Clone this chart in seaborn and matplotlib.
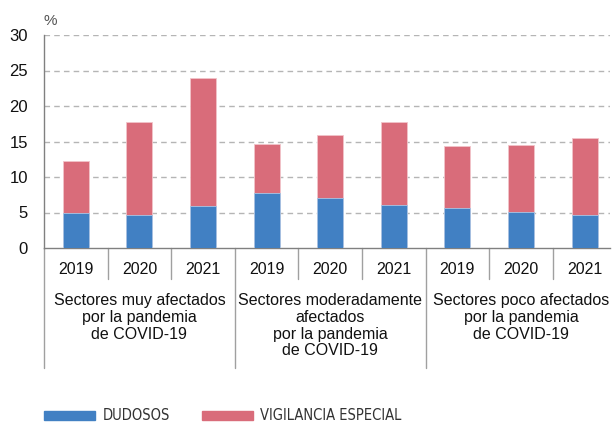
import pandas as pd
import matplotlib.pyplot as plt
import seaborn as sns
from matplotlib.patches import Patch
from matplotlib import font_manager

# data
groups = [
    "Sectores muy afectados\npor la pandemia\nde COVID-19",
    "Sectores moderadamente\nafectados\npor la pandemia\nde COVID-19",
    "Sectores poco afectados\npor la pandemia\nde COVID-19",
]
years = ["2019", "2020", "2021"]
dudosos = [4.9, 4.6, 5.9, 7.8, 7.1, 6.0, 5.7, 5.1, 4.6]
vigilancia = [7.4, 13.1, 18.0, 6.8, 8.8, 11.7, 8.7, 9.4, 10.9]
legend_labels = ["DUDOSOS", "VIGILANCIA ESPECIAL"]

rows = []
for i, (d, v) in enumerate(zip(dudosos, vigilancia)):
    rows.append({"key": f"{i // 3}-{years[i % 3]}", "dudosos": d, "total": d + v})
df = pd.DataFrame(rows)

blue = "#4180c3"
pink = "#d96c7a"

sns.set_style("white")
plt.rcParams["font.family"] = ["Liberation Sans", "DejaVu Sans"]

fig = plt.figure(figsize=(6.12, 4.24), dpi=100)
W, H = 612, 424
ax = fig.add_axes([44 / W, 1 - 248 / H, (610 - 44) / W, (248 - 35) / H])

sns.barplot(data=df, x="key", y="total", color=pink, width=0.41, ax=ax,
            edgecolor="#f2c4ca", linewidth=0.6, saturation=1, zorder=3)
sns.barplot(data=df, x="key", y="dudosos", color=blue, width=0.41, ax=ax,
            edgecolor="#a9c6e6", linewidth=0.6, saturation=1, zorder=4)

ax.set_ylim(0, 30)
ax.set_xlim(-0.5, 8.4)
ax.set_yticks(range(0, 31, 5))
ax.tick_params(axis="y", labelsize=12, length=0, pad=11.5, labelcolor="#111111")
ax.set_xticks([])
ax.set_xlabel("")
ax.set_ylabel("")
for y in range(5, 31, 5):
    ax.axhline(y, color="#b5b5b5", linestyle=(0, (4, 3)), linewidth=1, zorder=1)

for s in ["top", "right"]:
    ax.spines[s].set_visible(False)
for s in ["left", "bottom"]:
    ax.spines[s].set_color("#808080")
    ax.spines[s].set_linewidth(1)

ax.text(0, 1 + 14 * (1 / 213), "%", transform=ax.transAxes, fontsize=11,
        color="#555555", ha="left", va="center")

tr = ax.get_xaxis_transform()
px = 1 / (248 - 35)
for i in range(9):
    ax.text(i, -22 * px, years[i % 3], transform=tr, ha="center", va="center",
            fontsize=11.5, color="#111111")
    depth = 120 if i % 3 == 0 else 31
    ax.plot([i - 0.5, i - 0.5], [0, -depth * px], transform=tr, color="#a0a0a0",
            linewidth=1, clip_on=False)
for g, label in enumerate(groups):
    ax.text(3 * g + 1, -45 * px, label, transform=tr, ha="center", va="top",
            fontsize=11.5, color="#111111", linespacing=1.15)

# legend, one entry per box so the spacing follows the reference
fp = font_manager.FontProperties(family=["DejaVu Sans"], stretch="condensed", size=10.5)
for color, label, x0 in zip([blue, pink], legend_labels, [44, 202]):
    fig.legend(handles=[Patch(color=color, label=label)], loc="center left",
               bbox_to_anchor=(x0 / W, 1 - 416 / H), frameon=False,
               borderpad=0, borderaxespad=0, handlelength=3.5, handleheight=0.55,
               handletextpad=0.5, prop=fp, labelcolor="#333333")

fig.savefig("out.png", dpi=100)
